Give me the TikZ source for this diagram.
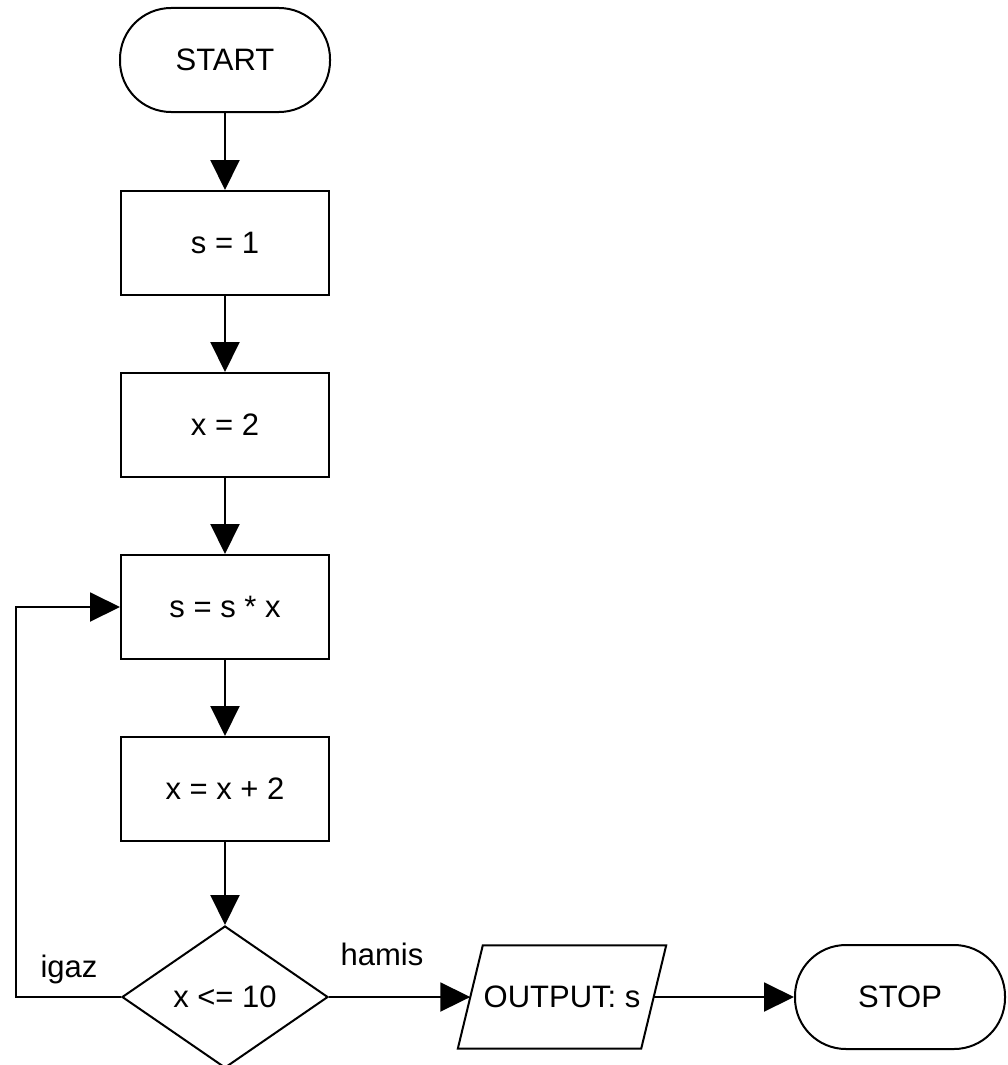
\documentclass[tikz,border=0pt]{standalone}
\usepackage{fontspec}
\setmainfont{Liberation Sans}
\usetikzlibrary{arrows.meta,shapes.geometric}
\begin{document}
\begin{tikzpicture}[x=1pt,y=-1pt,
  every node/.style={font=\fontsize{31}{37}\selectfont, inner sep=0pt},
  base/.style={draw, line width=2pt},
  term/.style={base, rectangle, rounded corners=51pt, minimum width=210pt, minimum height=104pt},
  procbox/.style={base, rectangle, minimum width=208pt, minimum height=104pt},
  decision/.style={base, diamond, aspect=1.45, minimum width=206pt, minimum height=142pt},
  iobox/.style={rectangle, minimum width=183pt, minimum height=103pt},
  outline/.style={line width=2pt, line join=miter},
  arr/.style={line width=2pt, -{Triangle[length=30pt,width=29pt]}},
  lbl/.style={anchor=base}
]
\useasboundingbox (0,0) rectangle (1007,1065);
\clip (0,0) rectangle (1007,1065);
\fill[white] (0,0) rectangle (1007,1065);

\node[term] (start) at (225,60) {START};
\node[procbox] (s1) at (225,243) {s = 1};
\node[procbox] (x2) at (225,425) {x = 2};
\node[procbox] (ssx) at (225,607) {s = s * x};
\node[procbox] (xx2) at (225,789) {x = x + 2};
\node[decision] (dec) at (225,997) {x <= 10};
\node[iobox] (out) at (562,997) {OUTPUT: s};
\draw[outline] ([xshift=12.5pt]out.north west) -- ([xshift=12.5pt]out.north east)
  -- ([xshift=-12.5pt]out.south east) -- ([xshift=-12.5pt]out.south west) -- cycle;
\node[term] (stop) at (900,997) {STOP};
\coordinate (lx) at (16,0);

\draw[arr] (start) -- (s1);
\draw[arr] (s1) -- (x2);
\draw[arr] (x2) -- (ssx);
\draw[arr] (ssx) -- (xx2);
\draw[arr] (xx2) -- (dec);
\draw[arr] (dec.west) -- (dec.west -| lx) |- (ssx.west);
\draw[arr] (dec.east) -- (out.west);
\draw[arr] (out.east) -- (stop.west);

\node[lbl] (igaz) at (69,977) {igaz};
\node[lbl] (hamis) at (382,965) {hamis};
\end{tikzpicture}
\end{document}
